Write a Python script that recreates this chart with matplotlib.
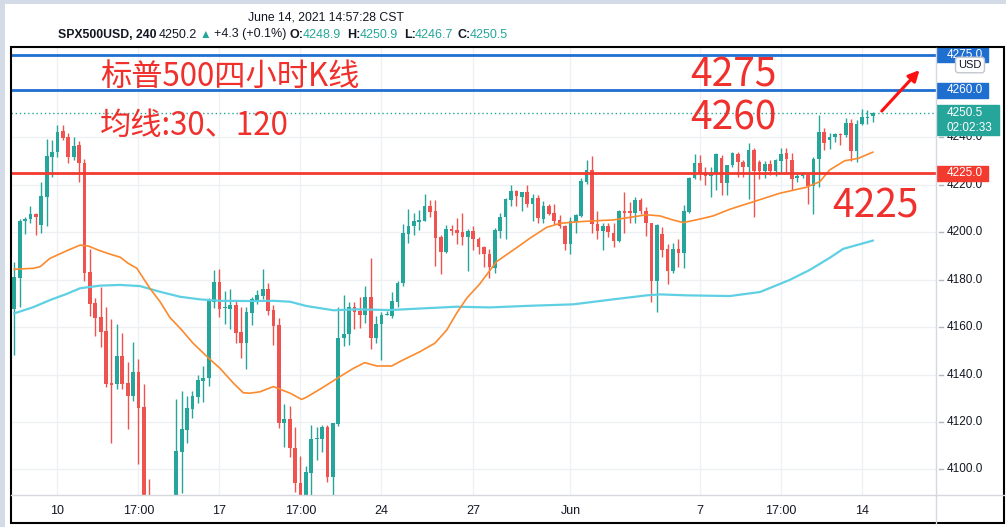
import numpy as np
import matplotlib.pyplot as plt
from matplotlib.patches import Rectangle
from matplotlib.lines import Line2D

plt.rcParams['font.family'] = ['Liberation Sans', 'DejaVu Sans']

# ---- data (4h bars, SPX500USD) ----
opens = [4167.5, 4180.8, 4204.8, 4205.5, 4207.7, 4203.1, 4215.0, 4231.9, 4233.8, 4242.7,
         4240.3, 4231.9, 4236.8, 4229.4, 4183.2, 4170.0, 4164.1, 4158.4, 4136.4, 4135.9,
         4147.8, 4136.3, 4131.1, 4141.1, 4126.3, 4086.0, 4080.0, 4072.0, 4078.0, 4074.0,
         4084.0, 4107.4, 4116.6, 4125.4, 4130.6, 4137.4, 4138.4, 4170.7, 4179.2, 4168.1,
         4167.8, 4169.3, 4158.0, 4153.4, 4166.1, 4171.4, 4173.2, 4176.0, 4167.2, 4160.9,
         4119.7, 4121.1, 4108.9, 4094.4, 4086.0, 4098.6, 4112.7, 4112.7, 4118.0, 4096.9,
         4119.1, 4155.3, 4157.1, 4168.4, 4166.8, 4165.1, 4172.8, 4155.5, 4161.3, 4165.1,
         4164.8, 4170.7, 4178.5, 4199.3, 4202.7, 4204.5, 4204.9, 4211.1, 4209.0, 4197.9,
         4191.8, 4201.4, 4201.0, 4200.3, 4197.9, 4200.5, 4197.0, 4193.9, 4190.8, 4185.1,
         4200.5, 4206.3, 4213.6, 4217.4, 4215.0, 4216.9, 4211.8, 4214.3, 4205.6, 4211.2,
         4208.0, 4205.2, 4202.7, 4194.9, 4204.5, 4206.9, 4221.3, 4226.3, 4203.4, 4200.7,
         4202.8, 4199.6, 4196.5, 4209.0, 4209.0, 4208.3, 4213.6, 4209.1, 4203.8, 4179.6,
         4199.3, 4193.0, 4183.8, 4193.0, 4191.1, 4208.7, 4223.0, 4229.1, 4225.6, 4223.9,
         4224.9, 4231.2, 4220.7, 4228.4, 4233.0, 4229.8, 4227.7, 4234.7, 4229.5, 4225.9,
         4228.8, 4225.9, 4230.1, 4233.3, 4230.5, 4223.0, 4223.8, 4224.0, 4219.5, 4230.8,
         4242.2, 4238.9, 4240.3, 4241.5, 4240.9, 4246.2, 4234.3, 4245.5, 4248.1, 4248.9]
highs = [4187.5, 4205.6, 4206.5, 4211.1, 4208.0, 4221.3, 4239.2, 4238.9, 4245.3, 4245.3,
         4241.8, 4240.1, 4238.5, 4230.8, 4192.8, 4172.2, 4176.8, 4168.4, 4163.3, 4161.2,
         4157.4, 4145.4, 4153.7, 4146.7, 4136.0, 4096.0, 4087.0, 4084.0, 4086.0, 4088.0,
         4129.7, 4133.0, 4131.1, 4133.2, 4139.7, 4143.6, 4172.3, 4184.1, 4184.5, 4175.4,
         4175.9, 4171.0, 4168.6, 4168.6, 4172.8, 4175.6, 4184.5, 4178.5, 4169.3, 4163.7,
         4127.6, 4126.7, 4118.0, 4105.6, 4101.4, 4118.6, 4117.7, 4118.7, 4118.6, 4119.7,
         4168.6, 4173.5, 4170.7, 4170.7, 4172.8, 4177.3, 4189.3, 4164.7, 4166.5, 4166.9,
         4174.9, 4179.6, 4203.5, 4209.7, 4208.0, 4209.4, 4216.2, 4213.6, 4213.6, 4198.9,
         4203.1, 4203.1, 4205.9, 4208.0, 4201.3, 4202.7, 4197.9, 4194.2, 4192.8, 4201.9,
         4208.0, 4214.3, 4220.0, 4217.8, 4217.1, 4220.0, 4216.0, 4215.7, 4213.2, 4211.9,
         4211.9, 4207.3, 4203.1, 4206.6, 4207.7, 4223.0, 4230.5, 4232.3, 4209.0, 4203.8,
         4203.8, 4203.8, 4209.4, 4217.1, 4212.9, 4215.0, 4214.3, 4210.8, 4204.0, 4203.3,
         4202.4, 4195.1, 4195.4, 4197.0, 4211.5, 4223.5, 4233.0, 4232.6, 4227.7, 4227.7,
         4233.6, 4232.6, 4228.6, 4234.0, 4234.0, 4230.5, 4237.6, 4235.4, 4230.5, 4230.1,
         4230.5, 4230.8, 4235.4, 4235.4, 4233.3, 4225.3, 4225.6, 4224.6, 4231.9, 4249.5,
         4243.9, 4241.8, 4242.0, 4241.8, 4248.1, 4247.7, 4247.4, 4251.9, 4251.6, 4250.9]
lows = [4148.4, 4168.5, 4199.3, 4204.0, 4198.9, 4199.6, 4202.8, 4223.5, 4231.9, 4239.0,
        4229.4, 4230.5, 4221.3, 4179.6, 4164.8, 4156.4, 4151.7, 4134.9, 4111.2, 4134.0,
        4133.8, 4117.0, 4128.9, 4102.2, 4078.0, 4070.0, 4066.0, 4062.0, 4068.0, 4070.0,
        4078.0, 4089.9, 4111.0, 4121.5, 4128.1, 4128.5, 4135.3, 4167.9, 4164.1, 4161.2,
        4159.1, 4153.2, 4146.8, 4142.2, 4160.9, 4169.7, 4171.9, 4165.1, 4152.4, 4117.3,
        4109.5, 4105.3, 4090.5, 4080.0, 4082.0, 4088.0, 4103.9, 4107.4, 4094.5, 4088.0,
        4118.3, 4152.2, 4152.4, 4159.2, 4159.5, 4161.6, 4150.6, 4153.4, 4146.1, 4164.9,
        4163.7, 4168.6, 4177.3, 4195.4, 4198.9, 4201.0, 4204.8, 4206.6, 4185.8, 4182.4,
        4191.1, 4198.9, 4194.9, 4194.6, 4183.8, 4192.5, 4190.8, 4185.5, 4180.6, 4182.7,
        4197.5, 4197.2, 4211.2, 4211.1, 4209.1, 4210.8, 4204.9, 4203.8, 4203.8, 4207.3,
        4203.5, 4201.7, 4192.5, 4190.7, 4199.8, 4206.6, 4220.3, 4199.8, 4197.0, 4192.5,
        4198.1, 4193.7, 4196.0, 4199.8, 4204.0, 4203.8, 4207.7, 4198.6, 4170.7, 4166.5,
        4189.7, 4178.2, 4183.0, 4185.5, 4185.1, 4208.3, 4222.5, 4222.1, 4220.0, 4215.0,
        4217.8, 4215.7, 4215.7, 4227.7, 4223.2, 4223.2, 4213.9, 4206.6, 4222.5, 4222.8,
        4224.2, 4223.8, 4224.6, 4224.6, 4217.8, 4221.3, 4222.8, 4211.8, 4207.6, 4219.0,
        4234.7, 4235.0, 4238.2, 4236.8, 4240.1, 4230.2, 4229.8, 4245.3, 4245.7, 4246.7]
closes = [4181.0, 4204.9, 4205.6, 4207.7, 4206.6, 4215.3, 4232.2, 4233.9, 4242.4, 4239.9,
          4231.9, 4236.5, 4229.1, 4182.8, 4169.9, 4164.0, 4158.0, 4136.0, 4135.6, 4147.8,
          4136.0, 4131.1, 4141.1, 4126.0, 4084.0, 4080.0, 4072.0, 4078.0, 4074.0, 4084.0,
          4107.7, 4117.0, 4126.0, 4130.9, 4137.7, 4138.6, 4171.4, 4179.2, 4167.6, 4168.3,
          4169.3, 4157.6, 4153.4, 4166.2, 4171.7, 4173.5, 4176.0, 4166.9, 4160.6, 4119.7,
          4121.1, 4108.9, 4094.1, 4086.0, 4098.9, 4112.7, 4113.3, 4118.0, 4096.9, 4119.4,
          4155.3, 4157.1, 4168.4, 4166.5, 4165.1, 4172.8, 4155.5, 4161.3, 4165.1, 4165.4,
          4171.0, 4178.7, 4199.8, 4202.7, 4204.9, 4205.2, 4211.1, 4208.7, 4197.7, 4191.8,
          4201.3, 4200.7, 4199.8, 4198.1, 4200.5, 4197.0, 4193.7, 4190.7, 4185.5, 4201.0,
          4206.3, 4213.9, 4217.4, 4215.3, 4216.9, 4211.8, 4214.3, 4205.9, 4211.1, 4207.7,
          4204.8, 4202.7, 4194.9, 4204.8, 4207.3, 4221.6, 4226.3, 4203.4, 4200.7, 4202.8,
          4200.0, 4196.5, 4209.0, 4208.3, 4208.3, 4213.6, 4209.0, 4203.8, 4179.6, 4203.1,
          4192.5, 4183.8, 4193.0, 4191.1, 4209.1, 4223.0, 4229.1, 4224.5, 4223.9, 4224.9,
          4232.9, 4220.7, 4228.4, 4233.3, 4229.5, 4227.7, 4234.7, 4225.9, 4225.9, 4228.8,
          4225.9, 4230.5, 4233.0, 4230.8, 4222.5, 4223.8, 4224.5, 4219.5, 4230.8, 4242.4,
          4237.6, 4240.3, 4241.3, 4240.9, 4246.2, 4234.3, 4245.7, 4248.5, 4248.8, 4250.5]

# moving averages (bar index, value)
ma30_idx = [0, 3.5, 4.8, 6.6, 9.7, 12.2, 13.7, 15.9, 17.7, 19.6, 21.1, 22.7, 25.1, 27, 28.8,
            31, 33.1, 35.9, 38.1, 40.6, 42.4, 43.6, 45.5, 48, 51.1, 53.2, 54.1, 56.9, 60.3,
            62.8, 64.9, 67.1, 69.9, 71.7, 75.1, 77.9, 80.1, 81.9, 83.8, 86.2, 89.3, 92.4,
            95.5, 98.6, 101.1, 104.8, 107.9, 110.9, 114, 117.1, 119.6, 122, 123.9, 127,
            129.4, 132.5, 134.4, 136.9, 141.8, 146.7, 149.2, 151, 153.8, 156.3, 159]
ma30_val = [4184.4, 4184.8, 4185.5, 4189.0, 4192.2, 4194.6, 4194.2, 4192.2, 4190.8, 4189.5,
            4186.9, 4184.8, 4176.4, 4170.7, 4164.1, 4158.8, 4153.2, 4147.1, 4142.6, 4136.3,
            4132.3, 4132.1, 4132.7, 4134.9, 4132.1, 4129.5, 4130.4, 4134.2, 4139.1, 4142.6,
            4145.0, 4143.6, 4143.6, 4145.8, 4149.6, 4153.2, 4158.8, 4165.8, 4172.2, 4178.2,
            4187.6, 4192.5, 4197.5, 4202.1, 4203.8, 4204.5, 4204.9, 4205.2, 4206.3, 4207.4,
            4206.9, 4205.2, 4204.1, 4205.6, 4206.9, 4209.7, 4211.1, 4212.9, 4216.5, 4219.0,
            4221.4, 4226.3, 4230.2, 4231.2, 4233.8]
ma120_idx = [0, 3.5, 6.6, 9.7, 12.2, 15.9, 19.6, 23.3, 27, 30.7, 34.4, 38.1, 43.6, 48, 51.1,
             54.1, 59.1, 63.4, 69.6, 75.7, 81.9, 88, 95.5, 103.5, 110.9, 117.1, 119.6, 124.5,
             132.5, 138.1, 143.6, 147.3, 151, 153.5, 159]
ma120_val = [4165.8, 4168.4, 4171.4, 4174.0, 4176.4, 4177.5, 4177.8, 4177.3, 4174.9, 4172.8,
             4171.7, 4171.1, 4171.0, 4171.1, 4170.7, 4168.9, 4167.1, 4167.5, 4167.2, 4167.9,
             4168.6, 4168.3, 4169.0, 4169.6, 4171.7, 4173.4, 4173.8, 4173.4, 4173.1, 4174.8,
             4179.9, 4184.1, 4189.2, 4193.0, 4196.5]

blue_levels = [4275.0, 4260.0]
red_level = 4225.0
last_price = 4250.5
price_ticks = [4100, 4120, 4140, 4160, 4180, 4200, 4220, 4240, 4260]
time_ticks = [8, 23, 38, 53, 68, 85, 103, 127, 142, 157]
time_labels = ['10', '17:00', '17', '17:00', '24', '27', 'Jun', '7', '17:00', '14']

UP, DOWN = '#26a69a', '#ef5350'
BLUE, RED = '#1f6fd1', '#f23a2f'
TXT_RED = '#f0302c'
CJK = ['Noto Sans CJK SC', 'DejaVu Sans']

W, H = 1006, 527
fig = plt.figure(figsize=(W / 100, H / 100), dpi=100)

def fx(px):
    return px / W

def fy(py):
    return 1 - py / H

ymin, ymax = 4089.16, 4277.76

# main price pane
ax = fig.add_axes([fx(11), fy(495), fx(936) - fx(11), fy(48) - fy(495)])
ax.set_xlim(-0.61, 170.7)
ax.set_ylim(ymin, ymax)
for s in ax.spines.values():
    s.set_visible(False)
ax.set_yticks(price_ticks)
ax.set_xticks(time_ticks)
ax.set_xticklabels(time_labels)
ax.tick_params(axis='y', left=False, labelleft=False)
ax.tick_params(axis='x', length=0, pad=7, labelsize=9, labelcolor='#131722')
ax.grid(color='#eef0f4', lw=1)
ax.set_axisbelow(True)

o, h, l, c = map(np.array, (opens, highs, lows, closes))
idx = np.arange(len(o))
cols = np.where(c >= o, UP, DOWN)
ax.vlines(idx, l, h, colors=cols, linewidth=1, zorder=3)
ax.bar(idx, np.maximum(np.abs(c - o), 0.5), bottom=np.minimum(o, c), width=0.68,
       color=cols, linewidth=0, zorder=3)

ax.plot(ma120_idx, ma120_val, color='#5fd0e3', lw=1.6, zorder=4)
ax.plot(ma30_idx, ma30_val, color='#fb8a2e', lw=1.2, zorder=4)

for lv in blue_levels:
    ax.axhline(lv, color=BLUE, lw=2, zorder=5)
ax.axhline(red_level, color=RED, lw=2, zorder=5)
ax.axhline(last_price, color=UP, lw=1, ls=(0, (1, 2)), zorder=5)

# annotations drawn on the chart
ax.text(15.9, 4265.6, '标普500四小时K线', family=CJK, fontsize=22.5, color=TXT_RED,
        va='center', ha='left', zorder=6)
ax.text(15.9, 4244.9, '均线:30、120', family=CJK, fontsize=22.5, color=TXT_RED,
        va='center', ha='left', zorder=6)
ax.text(125.1, 4266.3, '4275', family=CJK, fontsize=28, color=TXT_RED, va='center', zorder=6)
ax.text(125.1, 4248.2, '4260', family=CJK, fontsize=28, color=TXT_RED, va='center', zorder=6)
ax.text(151.4, 4210.8, '4225', family=CJK, fontsize=28, color=TXT_RED, va='center', zorder=6)
ax.annotate('', xy=(168.0, 4269.3), xytext=(160.3, 4250.3),
            arrowprops=dict(arrowstyle='-|>', color='#ff1010', lw=2.2, mutation_scale=16),
            annotation_clip=False, zorder=7)

# price scale
pax = fig.add_axes([fx(936), fy(495), fx(1004) - fx(936), fy(48) - fy(495)])
pax.set_xlim(0, 1)
pax.set_ylim(ymin, ymax)
pax.axis('off')
for p in price_ticks:
    pax.plot([0.045, 0.10], [p, p], color='#b2b5be', lw=1)
    pax.text(0.15, p, f'{p:.1f}', fontsize=8.5, color='#131722', va='center', ha='left',
             clip_on=True)

def price_box(p, color, width, label, second=None):
    top = p + 3.16
    bottom = p - 3.16 if second is None else p - 9.5
    pax.add_patch(Rectangle((0, bottom), width, top - bottom, color=color, zorder=5))
    pax.text(0.15, p, label, fontsize=8.5, color='white', va='center', ha='left',
             zorder=6, clip_on=True)
    if second:
        pax.text(0.15, p - 6.5, second, fontsize=8.5, color='white', va='center',
                 ha='left', zorder=6, clip_on=True)

for lv in blue_levels:
    price_box(lv, BLUE, 0.765, f'{lv:.1f}')
price_box(red_level, RED, 0.765, f'{red_level:.1f}')
price_box(last_price, UP, 0.925, f'{last_price:.1f}', '02:02:33')

fig.text(fx(970), fy(65), 'USD', fontsize=8, color='#131722', ha='center', va='center',
         bbox=dict(boxstyle='round,pad=0.25', fc='white', ec='#c3c6ce', lw=1))

# frame, separators, outer margin
fig.add_artist(Line2D([fx(11), fx(1004)], [fy(495), fy(495)], color='#d6d8de', lw=1))
fig.add_artist(Line2D([fx(936), fx(936)], [fy(48), fy(523)], color='#d6d8de', lw=1))
fig.add_artist(Rectangle((fx(11), fy(523)), fx(1004) - fx(11), fy(47) - fy(523),
                         fill=False, ec='black', lw=1.5))
fig.add_artist(Rectangle((0, 0), fx(5), 1, color='#d3dbe7', lw=0))
fig.add_artist(Rectangle((0, fy(4)), 1, fy(0) - fy(4), color='#d3dbe7', lw=0))

# header
fig.text(fx(326), fy(17), 'June 14, 2021 14:57:28 CST', fontsize=8.8, color='#131722',
         va='center', ha='center')
hdr_y = fy(34.5)
fig.text(fx(58), hdr_y, 'SPX500USD, 240', fontsize=8.8, weight='bold', color='#131722',
         va='center')
fig.text(fx(159), hdr_y, '4250.2', fontsize=9, color='#131722', va='center')
fig.text(fx(200), hdr_y, '▲', fontsize=8.5, color=UP, va='center')
fig.text(fx(214), hdr_y, '+4.3 (+0.1%)', fontsize=9, color='#131722', va='center')
ohlc = [('O:', '4248.9', 290, 303), ('H:', '4250.9', 347, 360),
        ('L:', '4246.7', 404, 415), ('C:', '4250.5', 458, 470)]
for key, val, x1, x2 in ohlc:
    fig.text(fx(x1), hdr_y, key, fontsize=9, weight='bold', color='#131722', va='center')
    fig.text(fx(x2), hdr_y, val, fontsize=9, color=UP, va='center')

fig.savefig('out.png', dpi=100)
